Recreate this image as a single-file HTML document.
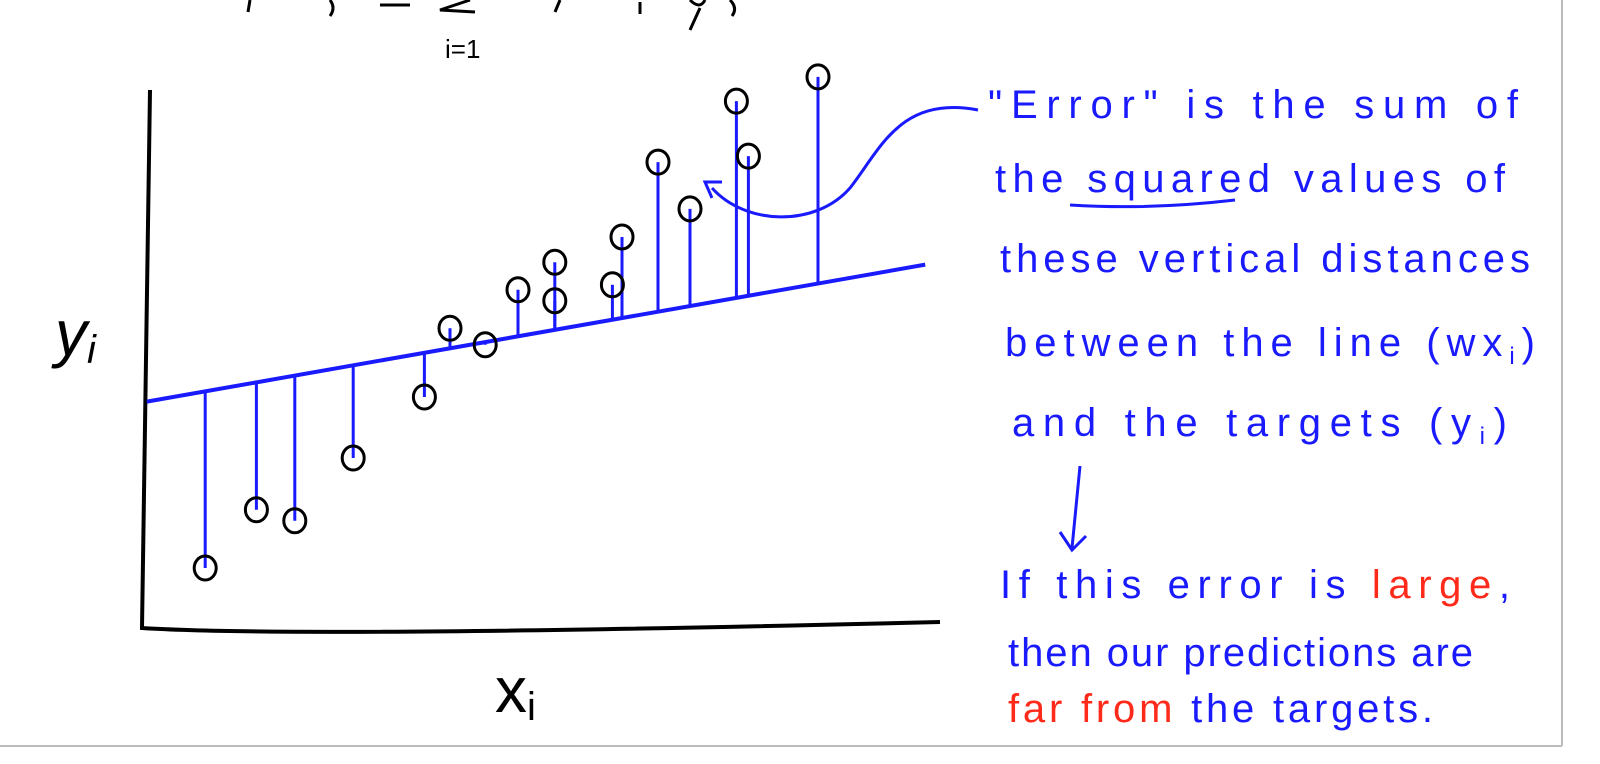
<!DOCTYPE html>
<html><head><meta charset="utf-8"><style>
html,body{margin:0;padding:0;background:#fff;}
svg{display:block;}
text{font-family:"Liberation Sans",sans-serif;}
</style></head><body>
<svg id="c" width="1600" height="764" viewBox="0 0 1600 764">
<rect x="0" y="0" width="1600" height="764" fill="#fff"/>
<line x1="1562" y1="0" x2="1562" y2="746" stroke="#bbb" stroke-width="2"/>
<line x1="0" y1="746" x2="1562" y2="746" stroke="#bbb" stroke-width="2"/>
<g stroke="#000" stroke-width="3" fill="none">
<path d="M250,0 L248,12"/><path d="M330,0 Q336,8 330,16"/><path d="M380,5 L410,5"/><path d="M470,0 L440,10 L475,12"/><path d="M560,0 L555,12"/><path d="M640,2 L640,14"/><path d="M690,0 Q700,10 705,0 M700,8 L690,30"/><path d="M730,0 Q738,8 732,16"/>
</g>
<text x="445" y="58" font-size="26" fill="#000">i=1</text>
<path d="M150,90 Q148,300 142,628 Q300,638 940,622" stroke="#000" stroke-width="4" fill="none"/>
<text x="55" y="355" font-size="64" fill="#000" font-style="italic">y<tspan font-size="40" dy="8">i</tspan></text>
<text x="495" y="712" font-size="64" fill="#000">x<tspan font-size="40" dy="8">i</tspan></text>
<g id="marks"></g>
<path d="M978,110 C900,95 880,150 850,188 C815,228 745,225 712,188" stroke="#1a1aff" stroke-width="3" fill="none"/>
<path d="M722,182 L705,182 L712,198" stroke="#1a1aff" stroke-width="3" fill="none"/>
<g fill="#1a1aff" font-size="40">
<text x="988" y="118" textLength="530">"Error" is the sum of</text>
<text x="995" y="192" textLength="510">the squared values of</text>
<text x="1000" y="272" textLength="530">these vertical distances</text>
<text x="1005" y="356" textLength="530">between the line (wx<tspan font-size="24" dy="8">i</tspan><tspan dy="-8">)</tspan></text>
<text x="1012" y="436" textLength="495">and the targets (y<tspan font-size="24" dy="8">i</tspan><tspan dy="-8">)</tspan></text>
<text x="1000" y="598" textLength="510">If this error is <tspan fill="#ff2a1a">large</tspan>,</text>
<text x="1008" y="666" textLength="465">then our predictions are</text>
<text x="1008" y="722" textLength="425"><tspan fill="#ff2a1a">far from</tspan> the targets.</text>
</g>
<path d="M1080,466 L1072,548 M1060,532 L1072,550 L1086,536" stroke="#1a1aff" stroke-width="3" fill="none"/>
<path d="M1070,205 Q1150,210 1235,200" stroke="#1a1aff" stroke-width="3" fill="none"/>
</svg>
<script>
const xValues=[7.9,14.3,19.1,26.4,35.3,38.5,42.9,47,51.6,51.6,58.8,60,64.5,68.5,74.3,75.8,84.5];
const yValues=[10.9,21.5,19.5,30.9,42,54.5,51.5,61.5,66.5,59.5,62.4,71.1,84.7,76.2,95.8,85.8,100.2];
const lineIntercept=[41];
const lineSlope=[0.256];
const lineRange=[0.6,97.9];
const X=d=>142+d*8, Y=d=>628-d*5.5;
const pred=x=>lineIntercept[0]+lineSlope[0]*x;
const ns="http://www.w3.org/2000/svg";
const g=document.getElementById('marks');
for(let i=0;i<xValues.length;i++){
  const l=document.createElementNS(ns,'line');
  
  
  l.setAttribute('x1',X(xValues[i]));l.setAttribute('x2',X(xValues[i]));
  l.setAttribute('y1',Y(yValues[i]));l.setAttribute('y2',Y(pred(xValues[i])));
  l.setAttribute('stroke','#1a1aff');l.setAttribute('stroke-width','3');
  g.appendChild(l);
}
const fl=document.createElementNS(ns,'line');


fl.setAttribute('x1',X(lineRange[0]));fl.setAttribute('y1',Y(pred(lineRange[0])));
fl.setAttribute('x2',X(lineRange[1]));fl.setAttribute('y2',Y(pred(lineRange[1])));
fl.setAttribute('stroke','#1a1aff');fl.setAttribute('stroke-width','4');
g.appendChild(fl);
for(let i=0;i<xValues.length;i++){
  const c=document.createElementNS(ns,'ellipse');
  
  
  c.setAttribute('cx',X(xValues[i]));c.setAttribute('cy',Y(yValues[i]));
  c.setAttribute('rx',11);c.setAttribute('ry',12);
  c.setAttribute('fill','none');c.setAttribute('stroke','#000');c.setAttribute('stroke-width','3');
  g.appendChild(c);
}
</script>
</body></html>
